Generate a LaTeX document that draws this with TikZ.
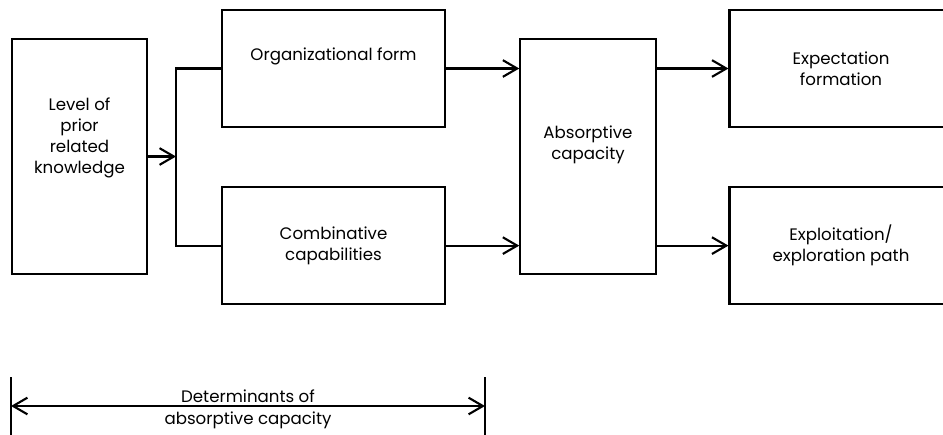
\documentclass[tikz,border=0pt]{standalone}
\usepackage{fontspec}
\setmainfont{Poppins}
\usetikzlibrary{arrows.meta,positioning,calc}
\tikzset{
  flow/.style={-{Straight Barb[length=4.3mm,width=5mm]}, line width=1.8pt},
  span/.style={{Straight Barb[length=4.3mm,width=5mm]}-{Straight Barb[length=4.3mm,width=5mm]}, line width=1.8pt},
  link/.style={line width=1.8pt},
  block/.style={draw, line width=1.8pt, align=center, inner sep=2pt,
                font=\fontsize{14.2}{18}\selectfont},
  tall/.style={block, minimum width=4.06cm, minimum height=7.05cm},
  wide/.style={block, minimum width=6.69cm, minimum height=3.51cm},
  lift/.style={text depth=#1},
}
\begin{document}
\begin{tikzpicture}[x=0.03cm,y=-0.03cm]
    \clip (0,0) rectangle (943,434);
    \node[tall,lift=35pt] (know) at (79.5,156.5) {Level of\\prior\\related\\knowledge};
    \node[wide,lift=6pt] (org) at (333.5,68.5) {Organizational form\\ \mbox{}};
    \node[wide,below=1.74cm of org] (comb) {Combinative\\capabilities};
    \node[tall,lift=23pt] (abs) at (588,156.5) {Absorptive\\capacity};
    \node[wide] (exp) at (841,68.5) {Expectation\\formation};
    \node[wide,below=1.74cm of exp] (expl) {Exploitation/\\exploration path};
    % split point in front of the two determinants
    \coordinate (split) at (176,156.5);
    \draw[flow] (know.east) -- (split);
    \draw[link] (org.west) -| (split) |- (comb.west);
    \draw[flow] (org.east) -- (org.east -| abs.west);
    \draw[flow] (comb.east) -- (comb.east -| abs.west);
    \draw[flow] (abs.east |- exp.west) -- (exp.west);
    \draw[flow] (abs.east |- expl.west) -- (expl.west);
    % span of the determinants
    \coordinate (dl) at (11,406);
    \coordinate (dr) at (485,406);
    \draw[link] (dl) ++(0,-29) -- ++(0,60);
    \draw[link] (dr) ++(0,-29) -- ++(0,60);
    \draw[span] (dl) -- (dr);
    \node[font=\fontsize{14.2}{19}\selectfont,align=center] (det) at ($(dl)!0.5!(dr)+(0,3)$) {Determinants of\\absorptive capacity};
\end{tikzpicture}
\end{document}
